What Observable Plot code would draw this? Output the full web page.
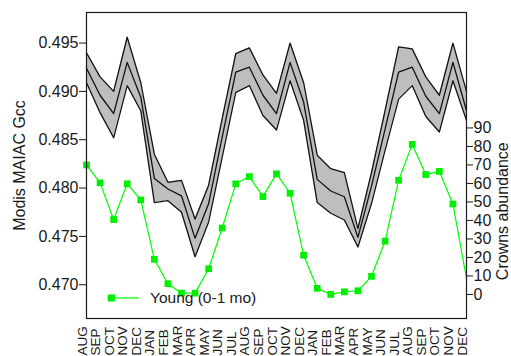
<!DOCTYPE html>
<html>
<head>
<meta charset="utf-8">
<script src="https://cdn.jsdelivr.net/npm/d3@7"></script>
<script src="https://cdn.jsdelivr.net/npm/@observablehq/plot@0.6"></script>
<style>
  html, body { margin: 0; padding: 0; background: #fff; }
  #wrap { position: relative; width: 511px; height: 356px; overflow: hidden; font-family: "Liberation Sans", Arial, sans-serif; }
  #legend { position: absolute; left: 106px; top: 289px; display: flex; align-items: center; font-size: 15.5px; color: #1a1a1a; }
  #legend svg { margin-right: 10px; }
</style>
</head>
<body>
<div id="wrap"><div id="legend"></div></div>
<script>
// Month tick labels (Aug -> Dec of the second year after)
const months = ["AUG","SEP","OCT","NOV","DEC","JAN","FEB","MAR","APR","MAY","JUN","JUL",
                "AUG","SEP","OCT","NOV","DEC","JAN","FEB","MAR","APR","MAY","JUN","JUL",
                "AUG","SEP","OCT","NOV","DEC"];

// Modis MAIAC Gcc: upper bound, mean, lower bound
const gccUpper = [0.4940,0.4915,0.4900,0.4956,0.4909,0.4835,0.4806,0.4808,0.4768,0.4803,0.4872,0.4939,
                  0.4945,0.4917,0.4898,0.4950,0.4909,0.4834,0.4820,0.4816,0.4758,0.4816,0.4880,0.4946,
                  0.4944,0.4915,0.4896,0.4950,0.4900];
const gccMid   = [0.4924,0.4896,0.4877,0.4930,0.4894,0.4810,0.4799,0.4792,0.4748,0.4784,0.4853,0.4920,
                  0.4925,0.4896,0.4877,0.4930,0.4889,0.4809,0.4797,0.4791,0.4749,0.4802,0.4861,0.4920,
                  0.4925,0.4895,0.4877,0.4930,0.4880];
const gccLower = [0.4909,0.4878,0.4852,0.4906,0.4880,0.4785,0.4787,0.4775,0.4729,0.4765,0.4832,0.4899,
                  0.4906,0.4875,0.4860,0.4911,0.4870,0.4785,0.4774,0.4767,0.4739,0.4784,0.4839,0.4892,
                  0.4906,0.4874,0.4858,0.4911,0.4870];

// Crowns abundance, Young (0-1 mo)
const youngAbundance = [70,60.3,40.5,59.8,51.1,19,5.8,0.7,0.7,13.9,35.9,59.8,
                        63.7,52.9,65.2,54.7,21.2,3.3,0,1.4,2,9.8,28.8,61.7,
                        81.1,64.8,66.5,48.9,8.7];

const gccTicks = [0.470,0.475,0.480,0.485,0.490,0.495];
const abundanceTicks = [0,10,20,30,40,50,60,70,80,90];

// Scale domains (left axis and the matching right axis)
const gccDomain = [0.46651, 0.49816];
const abDomain = [-13, 152.4];
const k = (gccDomain[1] - gccDomain[0]) / (abDomain[1] - abDomain[0]);
const toGcc = a => gccDomain[0] + (a - abDomain[0]) * k;
const toAb = g => abDomain[0] + (g - gccDomain[0]) / k;

const idx = months.map((_, i) => i);
const band = idx.map(i => ({i, upper: gccUpper[i], mid: gccMid[i], lower: gccLower[i]}));
const young = idx.map(i => ({i, v: toGcc(youngAbundance[i])}));

const ink = "#1a1a1a";

const chart = Plot.plot({
  width: 511, height: 356,
  marginLeft: 86, marginRight: 45, marginTop: 12, marginBottom: 38,
  style: {fontFamily: "'Liberation Sans', Arial, sans-serif", fontSize: "16px", color: ink, background: "white", overflow: "visible"},
  x: {type: "linear", domain: [0, months.length - 1], axis: null},
  y: {domain: gccDomain, axis: null},
  marks: [
    Plot.areaY(band, {x: "i", y1: "lower", y2: "upper", fill: "#bebebe"}),
    Plot.lineY(band, {x: "i", y: "upper", stroke: "#111", strokeWidth: 1.3}),
    Plot.lineY(band, {x: "i", y: "mid", stroke: "#111", strokeWidth: 1.3}),
    Plot.lineY(band, {x: "i", y: "lower", stroke: "#111", strokeWidth: 1.3}),
    Plot.lineY(young, {x: "i", y: "v", stroke: "#00ff00", strokeWidth: 1.2}),
    Plot.dot(young.slice(0, -1), {x: "i", y: "v", symbol: "square", r: 3.8, fill: "#00ee00"}),
    Plot.axisY(gccTicks, {anchor: "left", tickSize: 7, tickPadding: 1, tickFormat: d3.format(".3f"), label: null, stroke: ink, fill: ink}),
    Plot.axisY(abundanceTicks.map(toGcc), {anchor: "right", tickSize: 6, tickPadding: 1, tickFormat: d => String(Math.round(toAb(d))), label: null, stroke: ink, fill: ink}),
    Plot.text(["Modis MAIAC Gcc"], {frameAnchor: "left", dx: -67, rotate: -90, textAnchor: "middle", fill: ink}),
    Plot.text([{y: toGcc(45), t: "Crowns abundance"}], {y: "y", text: "t", frameAnchor: "right", dx: 36, rotate: -90, textAnchor: "middle", fill: ink}),
    Plot.text(idx, {x: d => d, text: d => months[d], frameAnchor: "bottom", dy: 37, rotate: -90, textAnchor: "start", fontSize: 13.5, fill: ink}),
    Plot.frame({stroke: ink, strokeWidth: 1.2})
  ]
});

const wrap = document.getElementById("wrap");
wrap.insertBefore(chart, wrap.firstChild);

// Legend inside the plot area
const legend = document.getElementById("legend");
legend.innerHTML = '<svg width="34" height="14"><line x1="1" y1="7" x2="33" y2="7" stroke="#00ff00" stroke-width="1.2"/><rect x="2" y="3.5" width="7" height="7" fill="#00ee00"/></svg><span>Young (0-1 mo)</span>';
</script>
</body>
</html>
